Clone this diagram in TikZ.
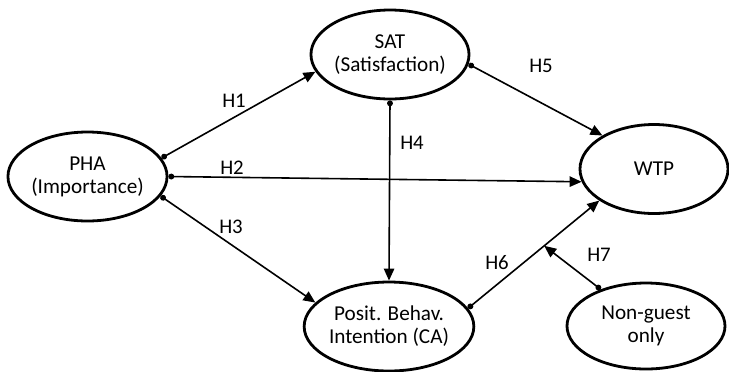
\documentclass[tikz,border=0pt]{standalone}
\usepackage{fontspec}
\setmainfont{Carlito}
\usetikzlibrary{arrows.meta,shapes.geometric}
\tikzset{
  cons/.style={ellipse,draw=black,line width=1.4pt,minimum width=#1,
               minimum height=44.5pt,inner sep=0pt,align=center,
               font=\fontsize{10.6}{11.6}\selectfont},
  hyp/.style={{Circle[length=2.9pt]}-{Triangle[length=6pt,width=5.2pt]},
              line width=0.8pt},
  hlab/.style={font=\fontsize{10.4}{12}\selectfont},
}

\begin{document}
\begin{tikzpicture}[x=0.5pt,y=-0.5pt]
  \useasboundingbox (0,0) rectangle (729,371);

  % constructs
  \node[cons=79.5pt] (pha) at (87.5,176.5) {PHA\\(Importance)};
  \node[cons=78.5pt] (sat) at (390,54.5)   {SAT\\(Satisfaction)};
  \node[cons=78.5pt] (pbi) at (389,326.5)  {Posit. Behav.\\Intention (CA)};
  \node[cons=74pt]   (wtp) at (654,169)    {WTP};
  \node[cons=79pt,minimum height=43pt] (ngo) at (646,326) {Non-guest\\only};

  % hypotheses
  \draw[hyp] (pha.14)    -- (sat.193);
  \draw[hyp] (pha.0)     -- (wtp.190.7);
  \draw[hyp] (pha.-15)   -- (pbi.162.3);
  \draw[hyp] (sat.south) -- (pbi.north);
  \draw[hyp] (sat.-7.7)  -- (wtp.147.8);
  \draw[hyp] (pbi.13.7)  -- coordinate[pos=0.58] (mod) (wtp.210.8);
  \draw[hyp] (ngo.141.5) -- (mod);

  % labels
  \node[hlab] (h1) at (234,101) {H1};
  \node[hlab] (h2) at (232,168) {H2};
  \node[hlab] (h3) at (231,227) {H3};
  \node[hlab] (h4) at (412,143) {H4};
  \node[hlab] (h5) at (541,66)  {H5};
  \node[hlab] (h6) at (497,263) {H6};
  \node[hlab] (h7) at (599,255) {H7};
\end{tikzpicture}
\end{document}
